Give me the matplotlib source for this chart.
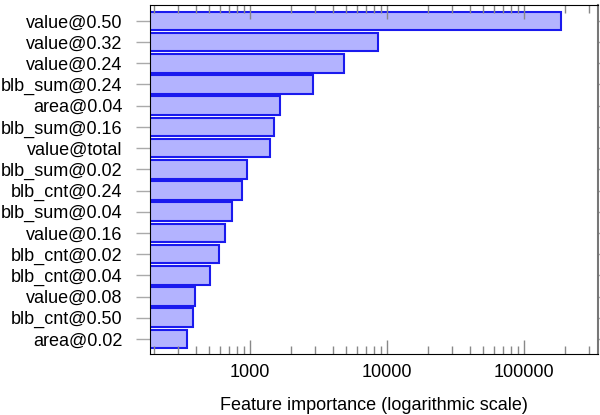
import matplotlib
matplotlib.use("Agg")
import matplotlib.pyplot as plt
from matplotlib.ticker import LogLocator, NullFormatter, FixedLocator, FixedFormatter

features = [
    "value@0.50", "value@0.32", "value@0.24", "blb_sum@0.24", "area@0.04",
    "blb_sum@0.16", "value@total", "blb_sum@0.02", "blb_cnt@0.24", "blb_sum@0.04",
    "value@0.16", "blb_cnt@0.02", "blb_cnt@0.04", "value@0.08", "blb_cnt@0.50",
    "area@0.02",
]
importance = [
    185000, 8550, 4830, 2870, 1660,
    1500, 1400, 946, 869, 743,
    657, 588, 509, 395, 384,
    348,
]
xticks = [1000, 10000, 100000]
xtick_labels = ["1000", "10000", "100000"]

plt.rcParams['font.family'] = ['Liberation Sans', 'DejaVu Sans']

fig = plt.figure(figsize=(6, 4.15), dpi=100)
ax = fig.add_axes([0.25, 0.147, 0.7467, 0.841])

ypos = list(range(len(features)))
ax.barh(ypos, importance, height=0.88, left=1, color='#b3b3ff',
        edgecolor='#1a1aee', linewidth=1.5)

ax.set_xscale('log')
ax.set_xlim(186, 347000)
ax.set_ylim(15.71, -0.75)

ax.xaxis.set_major_locator(FixedLocator(xticks))
ax.xaxis.set_major_formatter(FixedFormatter(xtick_labels))
ax.xaxis.set_minor_locator(LogLocator(base=10, subs=range(2, 10), numticks=20))
ax.xaxis.set_minor_formatter(NullFormatter())

ax.set_yticks(ypos)
ax.set_yticklabels(features, fontsize=13)
ax.tick_params(axis='x', which='both', direction='in', top=True, bottom=True,
               color='#888888', labelsize=13, pad=7)
ax.tick_params(axis='x', which='major', length=10, width=1)
ax.tick_params(axis='x', which='minor', length=6, width=1)
ax.tick_params(axis='y', which='major', left=True, right=True, direction='out',
               length=10, color='#aaaaaa', width=1, pad=10)

for side in ['top', 'bottom', 'left']:
    ax.spines[side].set_color('black')
ax.spines['right'].set_color('#777777')
ax.spines['right'].set_linewidth(1.5)

ax.set_xlabel("Feature importance (logarithmic scale)", fontsize=13, labelpad=12)

fig.savefig("out.png", dpi=100)
